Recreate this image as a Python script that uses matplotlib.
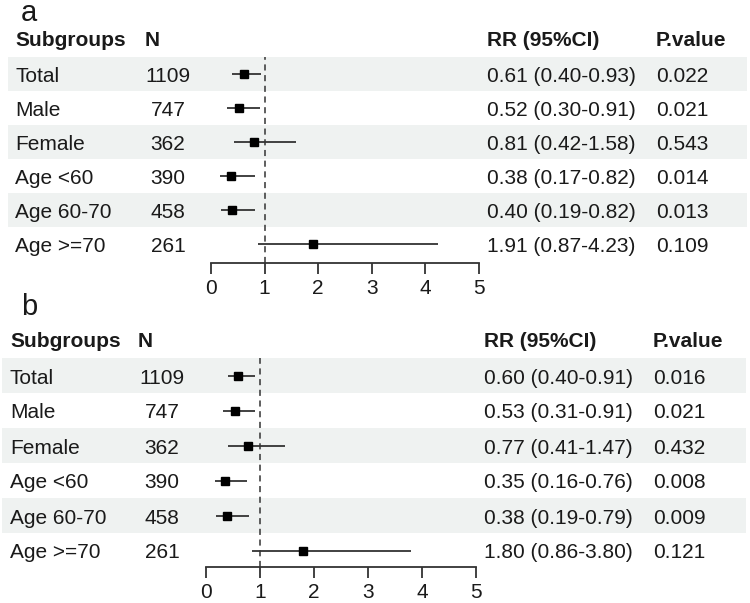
import matplotlib
matplotlib.use('Agg')
import matplotlib.pyplot as plt
from matplotlib.patches import Rectangle

plt.rcParams['font.family'] = ['Liberation Sans', 'DejaVu Sans']

subgroups = ['Total', 'Male', 'Female', 'Age <60', 'Age 60-70', 'Age >=70']
n_counts = [1109, 747, 362, 390, 458, 261]

# panel a
rr_a = [0.61, 0.52, 0.81, 0.38, 0.40, 1.91]
lo_a = [0.40, 0.30, 0.42, 0.17, 0.19, 0.87]
hi_a = [0.93, 0.91, 1.58, 0.82, 0.82, 4.23]
p_a = ['0.022', '0.021', '0.543', '0.014', '0.013', '0.109']

# panel b
rr_b = [0.60, 0.53, 0.77, 0.35, 0.38, 1.80]
lo_b = [0.40, 0.31, 0.41, 0.16, 0.19, 0.86]
hi_b = [0.91, 0.91, 1.47, 0.76, 0.79, 3.80]
p_b = ['0.016', '0.021', '0.432', '0.008', '0.009', '0.121']

x_ticks = [0, 1, 2, 3, 4, 5]

W, H = 750, 603
band_col = '#eff2f1'
txt_col = '#1a1a1a'
line_col = '#333333'
fs = 15

fig = plt.figure(figsize=(W / 100, H / 100), dpi=100)
bg = fig.add_axes([0, 0, 1, 1])
bg.set_xlim(0, W)
bg.set_ylim(H, 0)
bg.axis('off')


def panel(label, rr, lo, hi, pv, lay):
    top, h = lay['top'], lay['h']
    nrow = len(subgroups)
    axis_y = lay['axis_y']
    # label and header
    bg.text(lay['lab_x'], lay['lab_y'], label, fontsize=21, color=txt_col, va='baseline')
    hy = lay['head_y']
    bg.text(lay['name_x'], hy, 'Subgroups', fontsize=fs, fontweight='bold', color=txt_col, va='baseline')
    bg.text(lay['nh_x'], hy, 'N', fontsize=fs, fontweight='bold', color=txt_col, va='baseline')
    bg.text(lay['rr_x'], hy, 'RR (95%CI)', fontsize=fs, fontweight='bold', color=txt_col, va='baseline')
    bg.text(lay['p_x'], hy, 'P.value', fontsize=fs, fontweight='bold', color=txt_col, va='baseline')
    for i in range(nrow):
        if i % 2 == 0:
            bg.add_patch(Rectangle((lay['bx0'], top + i * h), lay['bx1'] - lay['bx0'], h,
                                   color=band_col, lw=0, zorder=0))
        yb = top + h * (i + 0.5) + 8
        bg.text(lay['name_x'], yb, subgroups[i], fontsize=fs, color=txt_col, va='baseline')
        bg.text(lay['n_x'], yb, str(n_counts[i]), fontsize=fs, color=txt_col, va='baseline', ha='center')
        bg.text(lay['rr_x'], yb, f'{rr[i]:.2f} ({lo[i]:.2f}-{hi[i]:.2f})', fontsize=fs,
                color=txt_col, va='baseline')
        bg.text(lay['p_x'], yb, pv[i], fontsize=fs, color=txt_col, va='baseline')

    x0, x5 = lay['x0'], lay['x5']
    fa = fig.add_axes([x0 / W, (H - axis_y) / H, (x5 - x0) / W, (axis_y - top) / H])
    fa.patch.set_alpha(0)
    fa.set_xlim(x_ticks[0], x_ticks[-1])
    fa.set_ylim((axis_y - top) / h - 0.5, -0.5)
    fa.axvline(1, color=line_col, lw=1.1, ls=(0, (4, 3)))
    for i in range(nrow):
        fa.plot([lo[i], hi[i]], [i, i], color=line_col, lw=1.3, solid_capstyle='butt', clip_on=False)
        fa.plot(rr[i], i, 's', ms=5.3, color='black', clip_on=False)
    for s in ['top', 'left', 'right']:
        fa.spines[s].set_visible(False)
    fa.spines['bottom'].set_color(line_col)
    fa.spines['bottom'].set_linewidth(1.3)
    fa.set_xticks(x_ticks)
    fa.set_yticks([])
    fa.tick_params(axis='x', length=8, width=1.3, pad=3.6, labelsize=fs,
                   color=line_col, labelcolor=txt_col)


panel('a', rr_a, lo_a, hi_a, p_a,
      dict(top=57, h=34, axis_y=263, lab_x=21, lab_y=21, head_y=46,
           name_x=15, nh_x=145, n_x=168, rr_x=487, p_x=656,
           bx0=8, bx1=747, x0=211, x5=479))
panel('b', rr_b, lo_b, hi_b, p_b,
      dict(top=358, h=35, axis_y=567, lab_x=21, lab_y=315, head_y=347,
           name_x=10, nh_x=138, n_x=162, rr_x=484, p_x=653,
           bx0=2, bx1=746, x0=206, x5=476))

fig.savefig('out.png', dpi=100)
